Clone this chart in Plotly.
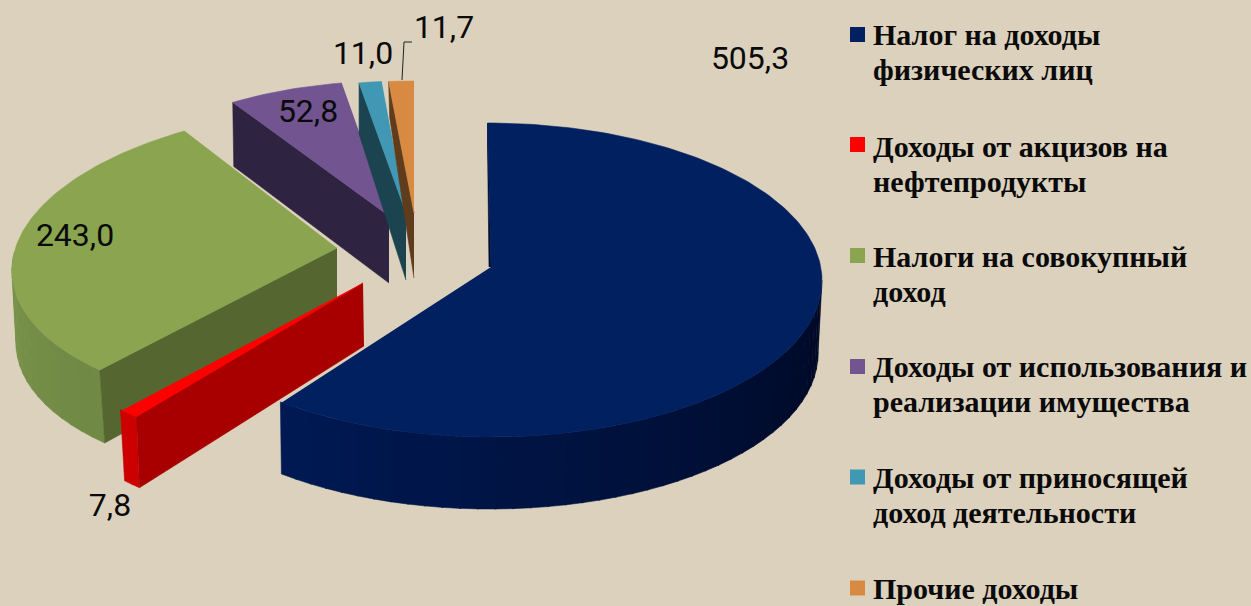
import numpy as np
import plotly.graph_objects as go

categories = ["Налог на доходы<br>физических лиц", "Доходы от акцизов на<br>нефтепродукты",
              "Налоги на совокупный<br>доход", "Доходы от использования и<br>реализации имущества",
              "Доходы от приносящей<br>доход деятельности", "Прочие доходы"]
values = [505.3, 7.8, 243.0, 52.8, 11.0, 11.7]
value_labels = ["505,3", "7,8", "243,0", "52,8", "11,0", "11,7"]
top_colors = ["#002060", "#ff0000", "#8aa450", "#725491", "#4198b4", "#d98a42"]
cut_colors = ["#000c30", "#a80000", "#566630", "#2e2340", "#1b4350", "#5f3c1c"]
wall_from = [(0, 26, 85), (204, 0, 0), (122, 148, 76), None, None, None]
wall_to = [(0, 9, 36), (204, 0, 0), (112, 138, 70), None, None, None]
bg = "#dbd1bd"

# projection of each exploded slice: apex x,y, ellipse centre x,y, rx, ry, shear, outer depth, apex depth
proj = [
    dict(ax=491, ay=267, cx=489, cy=280, rx=333, ry=157, s=-1.5, d_o=72, d_i=0, wall=(90, None), dx=(-4, 1)),
    dict(ax=363, ay=283, cx=363, cy=288, rx=342, ry=165, s=16, d_o=71, d_i=63, wall=(None, None), dx=(3, 4)),
    dict(ax=337, ay=248, cx=337, cy=258, rx=324, ry=151, s=27, d_o=73, d_i=68, wall=(None, 272), dx=(5, 4)),
    dict(ax=389, ay=216, cx=389, cy=216, rx=294, ry=135, s=3, d_o=64, d_i=67, wall=None, dx=(1, 1)),
    dict(ax=406, ay=213, cx=406, cy=213, rx=275, ry=132, s=0, d_o=51, d_i=67, wall=None, dx=(0, 0)),
    dict(ax=414, ay=213, cx=414, cy=213, rx=287, ry=132, s=0, d_o=36, d_i=65, wall=None, dx=(1, 1)),
]
label_x = [750, 110, 75, 308, 363, 444]
label_y = [61, 508, 238, 114, 56, 30]
legend_y = [34.5, 144.5, 255.5, 366.5, 477, 588]
legend_text_y = [34.5, 146, 256, 366.5, 477.5, 588]
draw_order = [3, 4, 5, 2, 1, 0]

fig = go.Figure()
fracs = np.array(values) / sum(values) * 360
ends = np.cumsum(fracs)
starts = ends - fracs


def pt(p, deg):
    t = np.radians(deg)
    return p["cx"] + p["rx"] * np.sin(t) + p["s"] * np.cos(t), p["cy"] - p["ry"] * np.cos(t)


def poly(xs, ys, color):
    fig.add_trace(go.Scatter(x=list(xs), y=list(ys), mode="lines", fill="toself", fillcolor=color,
                             line=dict(color=color, width=0.6), hoverinfo="skip", showlegend=False))


for i in draw_order:
    p, a0, a1 = proj[i], starts[i], ends[i]
    ox, oy = pt(p, a0)
    if i == 0:
        poly([p["ax"], ox, ox, p["ax"] - 2], [p["ay"], oy, oy + 20, p["ay"]], cut_colors[i])
    # outer wall
    if p["wall"] is not None:
        lo = p["wall"][0] if p["wall"][0] is not None else a0
        hi = p["wall"][1] if p["wall"][1] is not None else a1
        edges = np.linspace(lo, hi, int(max(2, (hi - lo) / 3)) + 1)
        for k in range(len(edges) - 1):
            f = (edges[k] - lo) / max(hi - lo, 1e-6)
            frm, to = (wall_to[i], wall_from[i])
            c = tuple(int(frm[j] + (to[j] - frm[j]) * f) for j in range(3))
            e = np.linspace(edges[k], edges[k + 1] + 0.3, 5)
            xy = np.array([pt(p, v) for v in e])
            ddx = p["dx"][0] + (p["dx"][1] - p["dx"][0]) * (e - lo) / max(hi - lo, 1e-6)
            poly(np.r_[xy[:, 0], (xy[:, 0] + ddx)[::-1]], np.r_[xy[:, 1], xy[::-1, 1] + p["d_o"]],
                 "rgb(%d,%d,%d)" % c)
    if i != 0:
        poly([p["ax"], ox, ox + p["dx"][0], p["ax"] + (1 if i == 1 else 0)],
             [p["ay"], oy, oy + p["d_o"], p["ay"] + p["d_i"]], cut_colors[i])
    # top face
    arc = np.array([pt(p, v) for v in np.linspace(a0, a1, max(4, int(fracs[i])))])
    poly(np.r_[p["ax"], arc[:, 0]], np.r_[p["ay"], arc[:, 1]], top_colors[i])

# leader line for the last label
fig.add_trace(go.Scatter(x=[402, 404, 412], y=[80, 42, 42], mode="lines", line=dict(color="#222", width=1),
                         hoverinfo="skip", showlegend=False))
# value labels
fig.add_trace(go.Scatter(x=label_x, y=label_y, mode="text", text=value_labels,
                         textfont=dict(family="Roboto", size=32, color="#0a0a0a"),
                         textposition="middle center", hoverinfo="skip", showlegend=False))
# legend keys
fig.add_trace(go.Scatter(x=[857.5] * 6, y=legend_y, mode="markers",
                         marker=dict(symbol="square", size=15, color=top_colors, line=dict(width=0)),
                         hoverinfo="skip", showlegend=False))
# legend text, one annotation per line so the line pitch can follow the reference
for c, y in zip(categories, legend_text_y):
    for n, line in enumerate(c.split("<br>")):
        fig.add_annotation(x=872, y=y + 35 * n, text="<b>%s</b>" % line, xref="x", yref="y", xanchor="left",
                           yanchor="middle", align="left", showarrow=False, borderpad=0,
                           font=dict(family="Liberation Serif", size=30, color="#0a0a0a"))

fig.update_layout(width=1251, height=606, margin=dict(l=0, r=0, t=0, b=0), paper_bgcolor=bg, plot_bgcolor=bg,
                  xaxis=dict(range=[0, 1251], visible=False, fixedrange=True),
                  yaxis=dict(range=[606, 0], visible=False, fixedrange=True), showlegend=False)
fig.write_html("out.html", config=dict(displayModeBar=False),
               post_script="document.body.style.margin='0';document.body.style.overflow='hidden';"
                           "document.body.style.background='%s';" % bg)
